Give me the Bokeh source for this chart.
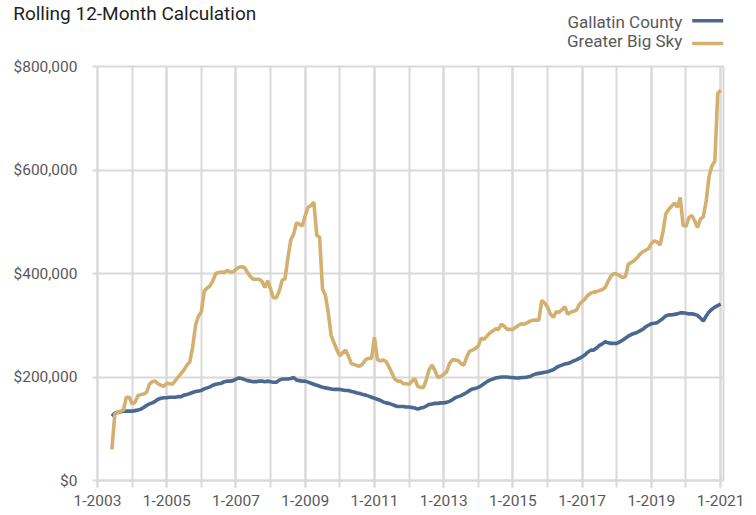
from bokeh.plotting import figure
from bokeh.layouts import column
from bokeh.models import FixedTicker, Label, BoxAnnotation, NumeralTickFormatter, Range1d
from bokeh.embed import file_html
from bokeh.resources import INLINE

# ---------------- data ----------------
TITLE = "Rolling 12-Month Calculation"
SERIES_NAMES = ["Gallatin County", "Greater Big Sky"]
START_MONTH = 5  # months after 1-2003 of the first value (6-2003)

# Rolling 12-month median price, thousands of dollars, monthly
gallatin_k = [
    124, 130, 132, 133, 134, 134, 134, 134, 135, 136,
    138, 141, 145, 148, 150, 153, 157, 159, 160, 160,
    161, 161, 161, 162, 162, 165, 166, 168, 170, 172,
    173, 174, 177, 179, 181, 184, 186, 187, 188, 191,
    192, 192, 193, 196, 198, 197, 195, 193, 192, 191,
    191, 192, 192, 191, 192, 191, 190, 190, 194, 196,
    196, 196, 197, 199, 194, 193, 192, 192, 190, 188,
    186, 184, 182, 180, 179, 178, 177, 176, 176, 176,
    175, 174, 174, 172, 171, 169, 168, 166, 165, 163,
    161, 159, 157, 155, 152, 150, 149, 147, 145, 143,
    143, 143, 142, 142, 141, 140, 138, 140, 141, 144,
    147, 148, 149, 149, 150, 150, 151, 153, 156, 160,
    162, 164, 167, 170, 174, 177, 178, 180, 183, 187,
    191, 194, 196, 198, 199, 200, 200, 200, 199, 199,
    198, 198, 199, 199, 200, 201, 204, 206, 207, 208,
    209, 210, 212, 214, 218, 221, 223, 225, 226, 228,
    231, 233, 236, 239, 243, 248, 252, 252, 256, 261,
    264, 268, 266, 265, 265, 265, 268, 271, 275, 279,
    282, 284, 286, 289, 292, 297, 300, 303, 304, 305,
    309, 313, 318, 320, 320, 321, 322, 324, 324, 323,
    322, 322, 321, 319, 314, 308, 318, 326, 331, 335,
    338, 341,
]

big_sky_k = [
    60, 128, 132, 134, 136, 161, 161, 148, 151, 164,
    166, 167, 170, 186, 191, 192, 187, 184, 182, 188,
    187, 186, 193, 200, 207, 214, 223, 229, 258, 300,
    318, 326, 366, 372, 376, 386, 400, 402, 403, 402,
    406, 403, 403, 408, 412, 413, 411, 402, 394, 389,
    389, 389, 385, 373, 386, 370, 353, 353, 366, 387,
    390, 430, 465, 476, 498, 495, 492, 512, 528, 531,
    538, 474, 470, 370, 358, 324, 280, 266, 252, 241,
    247, 252, 240, 226, 224, 222, 221, 226, 234, 236,
    236, 277, 234, 231, 233, 230, 220, 208, 196, 192,
    192, 187, 187, 186, 192, 197, 182, 180, 180, 195,
    215, 223, 212, 199, 201, 205, 210, 226, 233, 233,
    232, 226, 223, 239, 250, 252, 255, 260, 275, 273,
    279, 285, 289, 293, 292, 302, 298, 292, 292, 292,
    296, 300, 303, 302, 305, 308, 310, 310, 310, 348,
    343, 335, 322, 315, 326, 325, 330, 336, 321, 325,
    327, 329, 340, 346, 351, 358, 362, 364, 365, 367,
    369, 373, 385, 395, 400, 399, 396, 392, 394, 418,
    421, 425, 430, 437, 442, 445, 448, 458, 463, 461,
    455, 480, 515, 524, 530, 536, 528, 547, 493, 491,
    508, 512, 502, 489, 505, 510, 540, 588, 608, 617,
    748, 754,
]

x_tick_months = [0, 24, 48, 72, 96, 120, 144, 168, 192, 216]
x_tick_labels = ["1-2003", "1-2005", "1-2007", "1-2009", "1-2011",
                 "1-2013", "1-2015", "1-2017", "1-2019", "1-2021"]
year_gridlines = [0, 12, 24, 36, 48, 60, 72, 84, 96, 108, 120, 132,
                  144, 156, 168, 180, 192, 204, 216]
y_ticks = [0, 200000, 400000, 600000, 800000]

# ---------------- styling ----------------
BLUE = "#4b6891"
GOLD = "#d3b070"
GRID = "#d9d9d9"
LABEL = "#595959"
FONT = "Roboto"
W = 756
HEADER_H = 56
MAIN_H = 515 - HEADER_H

months = [START_MONTH + i for i in range(len(gallatin_k))]
gallatin = [v * 1000 for v in gallatin_k]
big_sky = [v * 1000 for v in big_sky_k]

# ---------- header: title + legend (pixel-unit ranges) ----------
h = figure(width=W, height=HEADER_H, x_range=Range1d(0, W), y_range=Range1d(0, HEADER_H),
           output_backend="svg", toolbar_location=None,
           x_axis_location=None, y_axis_location=None,
           min_border_left=0, min_border_right=0, min_border_top=0, min_border_bottom=0)
h.frame_align = False
h.grid.visible = False
h.outline_line_color = None
h.background_fill_color = "white"
h.border_fill_color = "white"

# distances below the top edge, in pixels
TITLE_BASE = 13.0
LEGEND_BASE = [21.0, 40.5]
LEGEND_KEY = [20.2, 43.0]

h.add_layout(Label(x=12.7, y=HEADER_H - TITLE_BASE, text=TITLE, text_font=FONT,
                   text_font_size="19px", text_color="#1f1f1f",
                   text_baseline="alphabetic", text_align="left"))

for name, col, base, mid in zip(SERIES_NAMES, [BLUE, GOLD], LEGEND_BASE, LEGEND_KEY):
    h.add_layout(Label(x=681.7, y=HEADER_H - base, text=name, text_font=FONT,
                       text_font_size="17px", text_color=LABEL,
                       text_baseline="alphabetic", text_align="right"))
    h.add_layout(BoxAnnotation(left=691.7, right=722.7,
                               bottom=HEADER_H - mid - 1.8, top=HEADER_H - mid + 1.8,
                               fill_color=col, fill_alpha=1.0, line_color=None))

# ---------- main chart ----------
p = figure(width=W, height=MAIN_H, x_range=(0, 217), y_range=(0, 800000),
           output_backend="svg", toolbar_location=None,
           min_border_left=97, min_border_right=33,
           min_border_top=66 - HEADER_H, min_border_bottom=35)
p.frame_align = False
p.background_fill_color = "white"
p.border_fill_color = "white"
p.outline_line_color = GRID
p.outline_line_width = 2

p.line(months, gallatin, line_color=BLUE, line_width=3.6)
p.line(months, big_sky, line_color=GOLD, line_width=3.6)

xa = p.xaxis[0]
xa.ticker = FixedTicker(ticks=x_tick_months, minor_ticks=year_gridlines)
xa.major_label_overrides = {m: lab for m, lab in zip(x_tick_months, x_tick_labels)}
xa.axis_line_color = GRID
xa.axis_line_width = 2
xa.major_tick_line_color = GRID
xa.major_tick_line_width = 2
xa.minor_tick_line_color = GRID
xa.minor_tick_line_width = 2
xa.major_tick_in = 0
xa.major_tick_out = 7
xa.minor_tick_in = 0
xa.minor_tick_out = 7
xa.major_label_standoff = 7
xa.major_label_text_font = FONT
xa.major_label_text_font_size = "15.5px"
xa.major_label_text_color = LABEL

ya = p.yaxis[0]
ya.ticker = FixedTicker(ticks=y_ticks)
ya.formatter = NumeralTickFormatter(format="$0,0")
ya.axis_line_color = GRID
ya.axis_line_width = 2
ya.major_tick_line_color = GRID
ya.major_tick_line_width = 2
ya.minor_tick_line_color = None
ya.major_tick_in = 0
ya.major_tick_out = 5
ya.major_label_standoff = 15
ya.major_label_text_font = FONT
ya.major_label_text_font_size = "15.5px"
ya.major_label_text_color = LABEL

p.xgrid.grid_line_color = GRID
p.xgrid.grid_line_width = 2
p.xgrid.minor_grid_line_color = GRID
p.xgrid.minor_grid_line_width = 2
p.ygrid.grid_line_color = GRID
p.ygrid.grid_line_width = 2

layout = column(h, p, spacing=0)
open("out.html", "w").write(file_html(layout, INLINE))
